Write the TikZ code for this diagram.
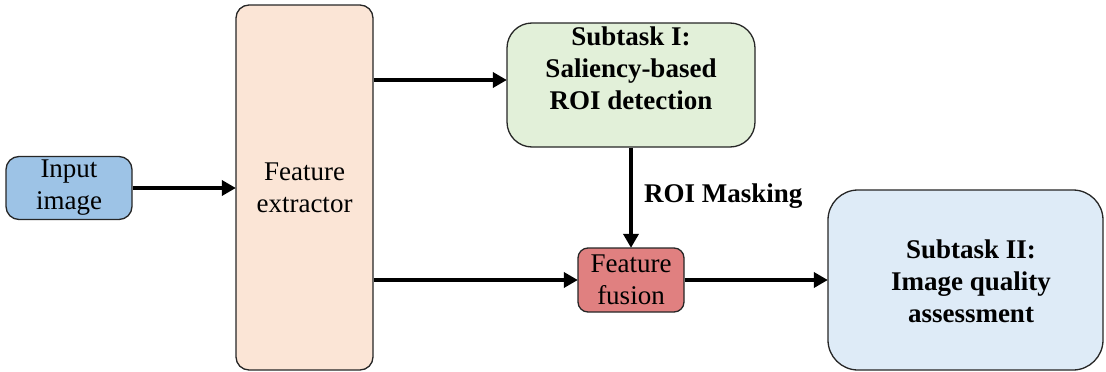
\documentclass[tikz,border=0pt]{standalone}
\usepackage{fontspec}
\setmainfont{LiberationSerif}[Extension=.ttf, UprightFont=*-Regular, BoldFont=*-Bold, ItalicFont=*-Italic, BoldItalicFont=*-BoldItalic]
\usetikzlibrary{arrows.meta}
\definecolor{inblue}{HTML}{9DC3E6}
\definecolor{fepeach}{HTML}{FBE5D6}
\definecolor{subgreen}{HTML}{E2F0D9}
\definecolor{fusered}{HTML}{E08080}
\definecolor{subblue}{HTML}{DEEBF7}
\begin{document}
\begin{tikzpicture}[x=1pt,y=-1pt,
  box/.style={draw=black!85, line width=1.3pt, rounded corners=#1, inner sep=0pt,
    font=\fontsize{27}{32}\selectfont, align=center},
  txt/.style={font=\fontsize{27}{32}\selectfont\bfseries, align=center, inner sep=0pt},
  arr/.style={line width=4pt, -{Triangle[length=14pt,width=15pt]}, shorten >=-0.5pt}
]
\useasboundingbox (0,0) rectangle (1106,372);

% blocks
\node[box=13pt, fill=inblue, minimum width=126pt, minimum height=63pt] (inp) at (69,188) {Input\\image};
\node[box=13pt, fill=fepeach, minimum width=137pt, minimum height=365pt] (fe) at (304.5,187.5) {Feature\\extractor};
\node[box=25pt, fill=subgreen, minimum width=248pt, minimum height=124pt] (sub1) at (631,85) {};
\node[txt] (sub1t) at (631,68) {Subtask I:\\Saliency-based\\ROI detection};
\node[box=10pt, fill=fusered, minimum width=106pt, minimum height=64pt] (ff) at (631,280) {Feature\\fusion};
\node[box=30pt, fill=subblue, minimum width=275pt, minimum height=180pt] (sub2) at (965.5,280) {};
\node[txt] (sub2t) at (971,281) {Subtask II:\\Image quality\\assessment};

% connectors
\draw[arr] (inp.east) -- (fe.west |- inp.east);
\draw[arr] (fe.east |- 0,80) -- (sub1.west |- 0,80);
\draw[arr] (fe.east |- ff.west) -- (ff.west);
\draw[arr] (sub1.south) -- (ff.north);
\draw[arr] (ff.east) -- (sub2.west |- ff.east);

\node[txt, anchor=west] (mask) at (644,196) {ROI Masking};
\end{tikzpicture}
\end{document}
